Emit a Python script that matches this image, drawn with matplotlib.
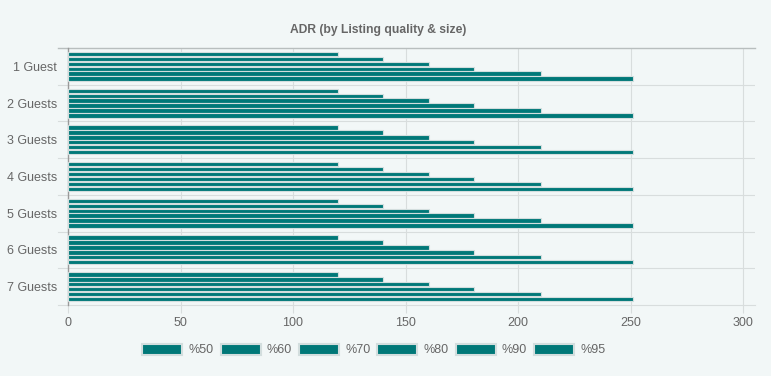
import numpy as np
import matplotlib.pyplot as plt
from matplotlib.patches import Patch

# Data
categories = ['1 Guest', '2 Guests', '3 Guests', '4 Guests', '5 Guests', '6 Guests', '7 Guests']
series_labels = ['%50', '%60', '%70', '%80', '%90', '%95']
adr_50 = [120, 120, 120, 120, 120, 120, 120]
adr_60 = [140, 140, 140, 140, 140, 140, 140]
adr_70 = [160.5, 160.5, 160.5, 160.5, 160.5, 160.5, 160.5]
adr_80 = [180.5, 180.5, 180.5, 180.5, 180.5, 180.5, 180.5]
adr_90 = [210, 210, 210, 210, 210, 210, 210]
adr_95 = [251, 251, 251, 251, 251, 251, 251]
series = [adr_50, adr_60, adr_70, adr_80, adr_90, adr_95]

# Style
bg_color = '#f2f7f7'
bar_color = '#007878'
edge_color = '#d3dede'
grid_color = '#d8dddd'
text_color = '#666666'

plt.rcParams['font.family'] = ['Liberation Sans', 'DejaVu Sans']

fig = plt.figure(figsize=(7.71, 3.76), dpi=100, facecolor=bg_color)
ax = fig.add_axes([68 / 771, 71 / 376, 687 / 771, 257 / 376])
ax.set_facecolor(bg_color)

n = len(series)
slot = 0.8 / n
y = np.arange(len(categories))
for i, vals in enumerate(series):
    offset = -0.4 + slot * (i + 0.5)
    ax.barh(y + offset, vals, height=slot * 0.9, color=bar_color,
            edgecolor=edge_color, linewidth=0.8, zorder=3)

ax.set_ylim(len(categories) - 0.5, -0.5)
ax.set_xlim(0, 305.3)
ax.set_xticks(range(0, 301, 50))
ax.set_yticks(y)
ax.set_yticklabels(categories)

# Grid lines: vertical at x ticks, horizontal at category boundaries
for xv in range(50, 301, 50):
    ax.axvline(xv, color=grid_color, linewidth=0.8, zorder=1)
for b in np.arange(0.5, len(categories) - 0.5, 1.0):
    ax.axhline(b, color=grid_color, linewidth=0.8, zorder=1)
    ax.plot([-10 / 2.25, 0], [b, b], color=grid_color, linewidth=0.8,
            clip_on=False, zorder=1)
ax.plot([-10 / 2.25, 305.3], [-0.5, -0.5], color='#b8bebe', linewidth=1.0,
        clip_on=False, zorder=2)
ax.plot([-10 / 2.25, 305.3], [len(categories) - 0.5] * 2, color=grid_color,
        linewidth=0.8, clip_on=False, zorder=1)

for side in ['top', 'right', 'bottom']:
    ax.spines[side].set_visible(False)
ax.spines['left'].set_color('#999999')
ax.spines['left'].set_linewidth(1.0)

ax.tick_params(axis='y', length=0, pad=8, labelsize=9, labelcolor=text_color)
ax.tick_params(axis='x', length=6, color=grid_color, pad=3, labelsize=9,
               labelcolor=text_color)

fig.text(0.49, 1 - 30 / 376, 'ADR (by Listing quality & size)', ha='center',
         va='center', fontsize=8.7, fontweight='bold', color=text_color)

handles = [Patch(facecolor=bar_color, edgecolor=edge_color, linewidth=1.5)
           for _ in series_labels]
leg = fig.legend(handles, series_labels, loc='center', bbox_to_anchor=(0.485, 1 - 350 / 376),
                 ncol=n, frameon=False, fontsize=9, handlelength=3.2,
                 handleheight=1.0, handletextpad=0.5, columnspacing=0.55)
for t in leg.get_texts():
    t.set_color(text_color)

fig.savefig('out.png', dpi=100, facecolor=bg_color)
